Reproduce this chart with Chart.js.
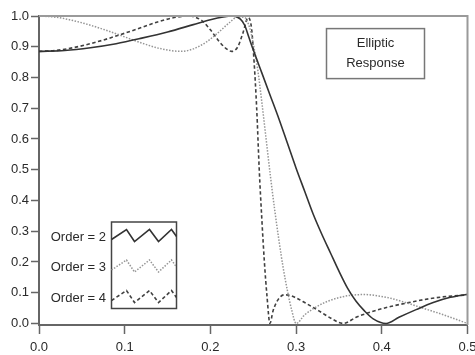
<!DOCTYPE html>
<html>
<head>
<meta charset="utf-8">
<script src="https://cdn.jsdelivr.net/npm/chart.js@4"></script>
<style>
  html, body { margin: 0; padding: 0; background: #fff; }
  #wrap { width: 475px; height: 355px; }
</style>
</head>
<body>
<div id="wrap"><canvas id="chart-area" width="475" height="355"></canvas></div>
<script>
// tick labels
var xTicks = [0, 0.1, 0.2, 0.3, 0.4, 0.5];
var yTicks = [0, 0.1, 0.2, 0.3, 0.4, 0.5, 0.6, 0.7, 0.8, 0.9, 1.0];

// series names
var orders = ["Order = 2", "Order = 3", "Order = 4"];

// order 2 (solid)
var f2 = [0, 0.03, 0.06, 0.09, 0.12, 0.15, 0.18, 0.2, 0.215, 0.225, 0.235, 0.24, 0.245, 0.25, 0.26, 0.27, 0.28, 0.29, 0.30, 0.31, 0.32, 0.33, 0.34, 0.35, 0.36, 0.37, 0.38, 0.39, 0.405, 0.42, 0.44, 0.46, 0.48, 0.5];
var g2 = [0.885, 0.888, 0.897, 0.91, 0.928, 0.948, 0.972, 0.988, 0.997, 1.0, 0.99, 0.97, 0.93, 0.89, 0.815, 0.74, 0.665, 0.585, 0.505, 0.43, 0.355, 0.29, 0.23, 0.17, 0.115, 0.072, 0.04, 0.015, 0.0, 0.02, 0.045, 0.068, 0.085, 0.095];

// order 3 (dotted)
var f3 = [0, 0.02, 0.04, 0.06, 0.08, 0.1, 0.12, 0.14, 0.165, 0.18, 0.195, 0.21, 0.222, 0.232, 0.24, 0.246, 0.25, 0.255, 0.26, 0.265, 0.27, 0.275, 0.28, 0.285, 0.29, 0.295, 0.3, 0.31, 0.32, 0.335, 0.35, 0.365, 0.38, 0.395, 0.41, 0.43, 0.45, 0.47, 0.5];
var g3 = [1.0, 0.996, 0.985, 0.97, 0.952, 0.932, 0.912, 0.895, 0.885, 0.893, 0.915, 0.948, 0.978, 0.997, 0.995, 0.96, 0.91, 0.83, 0.72, 0.6, 0.48, 0.37, 0.27, 0.18, 0.105, 0.042, 0.0, 0.028, 0.048, 0.07, 0.084, 0.092, 0.094, 0.09, 0.082, 0.066, 0.048, 0.03, 0.0];

// order 4 (dashed)
var f4 = [0, 0.02, 0.04, 0.06, 0.08, 0.1, 0.12, 0.14, 0.16, 0.175, 0.19, 0.2, 0.21, 0.218, 0.225, 0.232, 0.238, 0.244, 0.248, 0.251, 0.254, 0.257, 0.26, 0.263, 0.266, 0.2695, 0.273, 0.277, 0.281, 0.286, 0.292, 0.3, 0.31, 0.32, 0.33, 0.34, 0.355, 0.37, 0.39, 0.41, 0.43, 0.45, 0.47, 0.5];
var g4 = [0.885, 0.888, 0.897, 0.91, 0.926, 0.944, 0.963, 0.982, 0.996, 1.0, 0.985, 0.955, 0.918, 0.895, 0.885, 0.9, 0.945, 0.995, 0.96, 0.85, 0.7, 0.5, 0.34, 0.2, 0.09, 0.0, 0.04, 0.068, 0.085, 0.093, 0.092, 0.083, 0.068, 0.052, 0.035, 0.018, 0.0, 0.02, 0.04, 0.055, 0.067, 0.078, 0.086, 0.093];

function pts(fx, gy) {
    var out = [];
    for (var i = 0; i < fx.length; i++) { out.push({x: fx[i], y: gy[i]}); }
    return out;
}

var styles = [
    {color: "#333333", width: 1.6, dash: []},
    {color: "#959595", width: 1.5, dash: [1.5, 1.5]},
    {color: "#404040", width: 1.6, dash: [3.5, 2.5]}
];

// frame, legend box and title box drawn on top of the plot
var overlay = {
    id: 'overlay',
    afterDraw: function(chart) {
        var ctx = chart.ctx, a = chart.chartArea;
        ctx.save();

        // top / right frame
        ctx.strokeStyle = "#9a9a9a";
        ctx.lineWidth = 2;
        ctx.beginPath();
        ctx.moveTo(a.left, a.top);
        ctx.lineTo(a.right, a.top);
        ctx.lineTo(a.right, a.bottom);
        ctx.stroke();

        ctx.font = "13px 'Liberation Sans', Arial, sans-serif";
        ctx.fillStyle = "#2a2a2a";
        ctx.textBaseline = "middle";

        // title box
        var tx = a.left + 287.5, ty = a.top + 12.6;
        ctx.strokeStyle = "#777";
        ctx.lineWidth = 1.5;
        ctx.strokeRect(tx, ty, 98, 50);
        ctx.textAlign = "center";
        ctx.fillText("Elliptic", tx + 49, ty + 15);
        ctx.fillText("Response", tx + 49, ty + 35);

        // legend box
        var lx = a.left + 72.5, ly = a.top + 206;
        ctx.strokeStyle = "#444";
        ctx.lineWidth = 1.5;
        ctx.strokeRect(lx, ly, 65, 86.5);

        var zig = [[0, 4], [15, -6], [23, 6], [38, -6], [47, 6], [60, -6], [65, 1]];
        var rows = [ly + 13.5, ly + 44, ly + 74.5];
        ctx.textAlign = "right";
        for (var r = 0; r < orders.length; r++) {
            ctx.fillText(orders[r], lx - 5.5, rows[r] + 1.5);
            ctx.strokeStyle = styles[r].color;
            ctx.lineWidth = styles[r].width;
            ctx.setLineDash(styles[r].dash);
            ctx.beginPath();
            for (var k = 0; k < zig.length; k++) {
                if (k == 0) ctx.moveTo(lx + zig[k][0], rows[r] + zig[k][1]);
                else ctx.lineTo(lx + zig[k][0], rows[r] + zig[k][1]);
            }
            ctx.stroke();
        }
        ctx.setLineDash([]);
        ctx.restore();
    }
};

var series = [pts(f2, g2), pts(f3, g3), pts(f4, g4)];
var datasets = [];
for (var s = 0; s < series.length; s++) {
    datasets.push({
        label: orders[s],
        data: series[s],
        borderColor: styles[s].color,
        borderWidth: styles[s].width,
        borderDash: styles[s].dash,
        pointRadius: 0,
        fill: false,
        cubicInterpolationMode: 'monotone'
    });
}

Chart.defaults.font.family = "'Liberation Sans', Arial, sans-serif";
Chart.defaults.font.size = 13;
Chart.defaults.color = "#2a2a2a";

var config = {
    type: 'line',
    data: {datasets: datasets},
    plugins: [overlay],
    options: {
        responsive: false,
        animation: false,
        layout: {padding: {top: 16, right: 7.5, left: 0, bottom: 0}},
        plugins: {legend: {display: false}, tooltip: {enabled: false}},
        scales: {
            x: {
                type: 'linear',
                min: 0,
                max: 0.5,
                afterBuildTicks: function(sc) { sc.ticks = xTicks.map(function(v) { return {value: v}; }); },
                afterFit: function(sc) { sc.height = 30; sc.paddingLeft = 0; sc.paddingRight = 0; },
                ticks: {padding: 6, maxRotation: 0, autoSkip: false, callback: function(v) { return v.toFixed(1); }},
                grid: {drawOnChartArea: false, drawTicks: true, tickLength: 9, tickColor: "#666", tickWidth: 1.5},
                border: {color: "#666", width: 2}
            },
            y: {
                type: 'linear',
                min: -0.005,
                max: 1.0,
                afterBuildTicks: function(sc) { sc.ticks = yTicks.map(function(v) { return {value: v}; }); },
                afterFit: function(sc) { sc.width = 39; },
                ticks: {padding: 2, autoSkip: false, callback: function(v) { return v.toFixed(1); }},
                grid: {drawOnChartArea: false, drawTicks: true, tickLength: 8, tickColor: "#666", tickWidth: 1.5},
                border: {color: "#666", width: 2}
            }
        }
    }
};

window.onload = function() {
    var ctx = document.getElementById("chart-area").getContext("2d");
    window.myChart = new Chart(ctx, config);
};
</script>
</body>
</html>
